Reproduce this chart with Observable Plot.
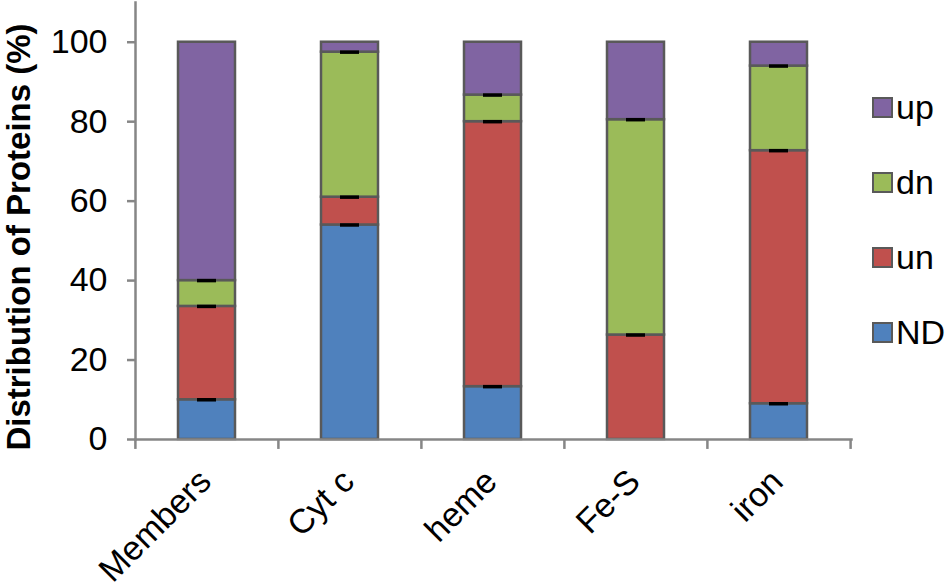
<!DOCTYPE html>
<html><head><meta charset="utf-8">
<script src="https://cdn.jsdelivr.net/npm/d3@7"></script>
<script src="https://cdn.jsdelivr.net/npm/@observablehq/plot@0.6"></script>
<style>
body{margin:0;background:#fff;font-family:"Liberation Sans",Arial,sans-serif}
#wrap{position:relative;width:950px;height:588px;overflow:hidden}
.item{position:absolute;left:872px;height:34px;display:flex;align-items:center;font-size:34px;line-height:34px;white-space:nowrap;color:#000}
.sw{width:17px;height:17px;border:2px solid #595959;margin-right:3px;flex:none}
</style></head><body><div id="wrap"></div>
<script>
const categories = ["Members", "Cyt c", "heme", "Fe-S", "iron"];
const seriesNames = ["ND", "un", "dn", "up"];
const ND = [10, 54, 13.3, 0, 9];
const un = [23.5, 7, 66.7, 26.3, 63.7];
const dn = [6.5, 36.5, 6.7, 54.2, 21.3];
const up = [60, 2.5, 13.3, 19.5, 6];
const yTicks = [0, 20, 40, 60, 80, 100];
const colors = ["#4F81BD", "#C0504D", "#9BBB59", "#8064A2"];
const yTitle = "Distribution of Proteins (%)";

const values = [ND, un, dn, up];
const data = [];
seriesNames.forEach((s, si) => categories.forEach((c, ci) => data.push({cat: c, series: s, value: values[si][ci]})));
const tops = [];
categories.forEach((c, ci) => {
  let cum = 0;
  seriesNames.forEach((s, si) => {
    cum += values[si][ci];
    if (si < seriesNames.length - 1 && values[si][ci] > 0) tops.push({cat: c, y: cum});
  });
});

const W = 950, H = 588, mL = 135, mR = 99, mT = 2, mB = 149;
const step = (W - mL - mR) / categories.length;
const axisGray = "#868686";
const font = "Liberation Sans, Arial, sans-serif";

const chart = Plot.plot({
  width: W, height: H,
  marginLeft: mL, marginRight: mR, marginTop: mT, marginBottom: mB,
  style: {fontFamily: font, color: "#000", background: "#fff", overflow: "visible"},
  x: {domain: categories, paddingInner: 0.6, paddingOuter: 0.3, axis: null},
  y: {domain: [0, 110], axis: null},
  color: {domain: seriesNames, range: colors},
  marks: [
    Plot.barY(data, {x: "cat", y: "value", fill: "series", stroke: "#595959", strokeWidth: 2.5}),
    Plot.tickY(tops, {x: "cat", y: "y", stroke: "#000", strokeWidth: 3.5, insetLeft: 19, insetRight: 19}),
    Plot.frame({anchor: "left", stroke: axisGray, strokeWidth: 2.5}),
    Plot.frame({anchor: "bottom", stroke: axisGray, strokeWidth: 2.5}),
    Plot.axisY({ticks: yTicks, tickSize: 8, tickPadding: 20, fontSize: 34, stroke: axisGray, strokeWidth: 2.5, fill: "#000", label: null}),
    Plot.ruleX(categories, {x: d => d, y1: 0, y2: -2.5, dx: -step / 2, stroke: axisGray, strokeWidth: 2.5}),
    Plot.ruleX(categories.slice(-1), {x: d => d, y1: 0, y2: -2.5, dx: step / 2, stroke: axisGray, strokeWidth: 2.5}),
    Plot.text(categories, {x: d => d, frameAnchor: "bottom", text: d => d, rotate: -45, textAnchor: "end", lineAnchor: "bottom", dx: 6, dy: 44, fontSize: 34, fill: "#000"}),
    Plot.text([yTitle], {frameAnchor: "left", text: d => d, rotate: -90, textAnchor: "middle", lineAnchor: "middle", dx: -116, dy: 16, fontSize: 33, fontWeight: "bold", fill: "#000"})
  ]
});

const wrap = document.getElementById("wrap");
wrap.appendChild(chart);

const legendOrder = seriesNames.slice().reverse();
const legendTop = 90, legendGap = 75;
legendOrder.forEach((s, i) => {
  const item = document.createElement("div");
  item.className = "item";
  item.style.top = (legendTop + i * legendGap) + "px";
  const sw = document.createElement("span");
  sw.className = "sw";
  sw.style.background = colors[seriesNames.indexOf(s)];
  const t = document.createElement("span");
  t.textContent = s;
  item.appendChild(sw);
  item.appendChild(t);
  wrap.appendChild(item);
});
</script>
</body></html>
